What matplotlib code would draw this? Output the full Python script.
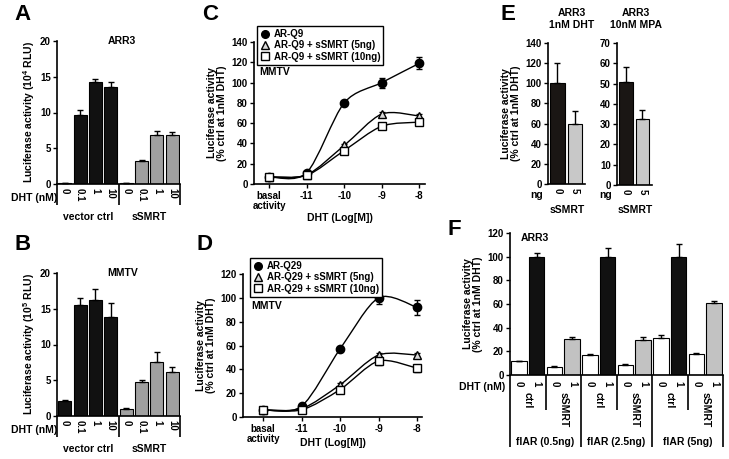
import matplotlib
matplotlib.use('Agg')
import matplotlib.pyplot as plt
from matplotlib.path import Path
from matplotlib.patches import PathPatch
from matplotlib.lines import Line2D
import matplotlib.transforms as mtransforms
import numpy as np

plt.rcParams['font.family'] = ['Liberation Sans', 'DejaVu Sans']
plt.rcParams['font.weight'] = 'bold'
plt.rcParams['axes.labelweight'] = 'bold'
plt.rcParams['mathtext.fontset'] = 'custom'
plt.rcParams['mathtext.rm'] = 'Liberation Sans:bold'
plt.rcParams['mathtext.bf'] = 'Liberation Sans:bold'
plt.rcParams['mathtext.default'] = 'bf'

# ---------------- data ----------------
dht_ab = ['0', '0.1', '1', '10']
ab_groups = ['vector ctrl', 'sSMRT']
a_vec = [0.1, 9.7, 14.2, 13.5]
a_vec_err = [0.05, 0.6, 0.5, 0.7]
a_ssmrt = [0.15, 3.2, 6.9, 6.8]
a_ssmrt_err = [0.05, 0.2, 0.5, 0.5]
b_vec = [2.1, 15.5, 16.2, 13.8]
b_vec_err = [0.1, 1.0, 1.6, 2.0]
b_ssmrt = [1.0, 4.8, 7.6, 6.1]
b_ssmrt_err = [0.1, 0.3, 1.3, 0.7]

dose_labels = ['basal\nactivity', '-11', '-10', '-9', '-8']
c_names = ['AR-Q9', 'AR-Q9 + sSMRT (5ng)', 'AR-Q9 + sSMRT (10ng)']
c_q9 = [7, 11, 80, 100, 119]
c_q9_err = [0.5, 1.5, 2, 5, 6]
c_5ng = [7, 9, 38, 69, 67]
c_5ng_err = [0.5, 1, 1.5, 2, 2]
c_10ng = [7, 8.5, 33, 57, 61]
c_10ng_err = [0.5, 1, 2, 2, 3]
d_names = ['AR-Q29', 'AR-Q29 + sSMRT (5ng)', 'AR-Q29 + sSMRT (10ng)']
d_q29 = [6, 9, 57, 100, 92]
d_q29_err = [0.5, 1, 2, 5, 6]
d_5ng = [6, 7, 27, 52, 52]
d_5ng_err = [0.5, 1, 1.5, 2, 2]
d_10ng = [6, 6, 23, 47, 41]
d_10ng_err = [0.5, 0.5, 1, 3, 3]

e_labels = ['0', '5']
e_dht = [100, 60]
e_dht_err = [20, 12]
e_mpa = [51, 32.5]
e_mpa_err = [7, 4.5]

f_groups = ['flAR (0.5ng)', 'flAR (2.5ng)', 'flAR (5ng)']
f_conds = ['ctrl', 'sSMRT']
f_dht = ['0', '1']
f_vals = [11.5, 100, 7, 30.5, 17, 100, 8.5, 30, 31, 100, 18, 60.5]
f_err = [0.5, 3.5, 0.5, 1.5, 1, 7, 0.5, 2.5, 2.5, 11, 0.8, 2]

# ---------------- layout helpers ----------------
W, H = 729, 459
fig = plt.figure(figsize=(W / 100, H / 100), dpi=100)
BOX = {}

def axes_px(l, t, r, b):
    ax = fig.add_axes([l / W, 1 - b / H, (r - l) / W, (b - t) / H])
    BOX[ax] = (l, t, r, b)
    return ax

def ay(ax, ypx):
    l, t, r, b = BOX[ax]
    return (b - ypx) / (b - t)

def ftext(x, y, s, **kw):
    fig.text(x / W, 1 - y / H, s, **kw)

def style(ax, xticklen=0):
    for s in ['top', 'right']:
        ax.spines[s].set_visible(False)
    for s in ['left', 'bottom']:
        ax.spines[s].set_linewidth(1.2)
    ax.tick_params(axis='y', labelsize=7, width=1, length=3, pad=1.5)
    ax.tick_params(axis='x', labelsize=7, width=1, length=xticklen, pad=3)

def vline(ax, x, ypx_end):
    tr = mtransforms.blended_transform_factory(ax.transData, ax.transAxes)
    ax.plot([x, x], [0, ay(ax, ypx_end)], color='black', lw=1.2,
            transform=tr, clip_on=False, solid_capstyle='butt')

def smooth(ax, xs, ys, color='black', lw=1.0, k=7.0):
    pts = np.column_stack([xs, ys]).astype(float)
    n = len(pts)
    verts = [pts[0]]
    codes = [Path.MOVETO]
    for i in range(n - 1):
        p0 = pts[max(i - 1, 0)]
        p1 = pts[i]
        p2 = pts[i + 1]
        p3 = pts[min(i + 2, n - 1)]
        c1 = p1 + (p2 - p0) / k
        c2 = p2 - (p3 - p1) / k
        verts += [c1, c2, p2]
        codes += [Path.CURVE4] * 3
    ax.add_patch(PathPatch(Path(verts, codes), facecolor='none',
                           edgecolor=color, lw=lw, zorder=2))

def bars(ax, x, vals, errs, colors, width=0.85):
    ax.bar(x, vals, width=width, color=colors, edgecolor='black',
           linewidth=0.8, zorder=2)
    ax.errorbar(x, vals, yerr=[np.zeros(len(errs)), errs], fmt='none',
                ecolor='black', elinewidth=1, capsize=2.5, capthick=1,
                zorder=3)

# ---------------- panels A & B ----------------
def panel_ab(box, vec, vec_err, ss, ss_err, title, ylabel):
    ax = axes_px(*box)
    l, t, r, b = box
    x = np.arange(8) + 0.5
    bars(ax, x, vec + ss, vec_err + ss_err, ['#111111'] * 4 + ['#a0a0a0'] * 4)
    ax.set_xlim(0, 8)
    ax.set_ylim(0, 20)
    ax.set_yticks([0, 5, 10, 15, 20])
    ax.set_xticks(x)
    ax.set_xticklabels(dht_ab + dht_ab, rotation=-90, va='top', ha='center')
    style(ax)
    ax.set_ylabel(ylabel, fontsize=7.5, labelpad=2)
    for xs in [0, 4, 8]:
        vline(ax, xs, b + 21)
    tr = mtransforms.blended_transform_factory(ax.transData, ax.transAxes)
    for gi, g in enumerate(ab_groups):
        ax.text(gi * 4 + 2, ay(ax, b + 33), g, transform=tr, ha='center',
                va='center', fontsize=7.5)
    ax.text(0.53, 1.0, title, transform=ax.transAxes, ha='center', va='center',
            fontsize=7.5)
    ftext(34, b + 14, 'DHT (nM)', ha='center', va='center', fontsize=7.5)
    return ax

panel_ab((57, 41, 180, 184), a_vec, a_vec_err, a_ssmrt, a_ssmrt_err, 'ARR3',
         'Luciferase activity (10$^{4}$ RLU)')
panel_ab((57, 273, 180, 416), b_vec, b_vec_err, b_ssmrt, b_ssmrt_err, 'MMTV',
         'Luciferase activity (10$^{5}$ RLU)')

# ---------------- panels C & D ----------------
def panel_cd(box, xlim, ymax, series, errs, names, legbox, mmtv_xy, xlab_y):
    ax = axes_px(*box)
    l, t, r, b = box
    x = np.arange(5)
    styles = [dict(marker='o', mfc='black', mec='black'),
              dict(marker='^', mfc='#d9d9d9', mec='black'),
              dict(marker='s', mfc='white', mec='black')]
    handles = []
    for ys, es, st, nm in zip(series, errs, styles, names):
        smooth(ax, x, ys)
        ax.errorbar(x, ys, yerr=es, fmt='none', ecolor='black', elinewidth=1,
                    capsize=2.5, capthick=1, zorder=3)
        ax.plot(x, ys, linestyle='none', mew=1, ms=6, zorder=4, **st)
        handles.append(Line2D([], [], linestyle='none', mew=1, ms=5.5, **st))
    ax.set_xlim(*xlim)
    ax.set_ylim(0, ymax)
    ax.set_yticks(np.arange(0, ymax + 1, 20))
    ax.set_xticks(x)
    ax.set_xticklabels(dose_labels, linespacing=0.95)
    style(ax, xticklen=3)
    ax.tick_params(axis='x', pad=2)
    ax.set_ylabel('Luciferase activity\n(% ctrl at 1nM DHT)', fontsize=7.5,
                  labelpad=3, linespacing=1.0)
    ax.set_xlabel('DHT (Log[M])', fontsize=7.5)
    ax.xaxis.set_label_coords(0.5, ay(ax, xlab_y), transform=ax.transAxes)
    leg = ax.legend(handles, names, loc='upper left',
                    bbox_to_anchor=(legbox[0] / W, 1 - legbox[1] / H),
                    bbox_transform=fig.transFigure, frameon=True,
                    fancybox=False, edgecolor='black', framealpha=1,
                    fontsize=7, handlelength=1.0, handletextpad=0.4,
                    borderpad=0.3, labelspacing=0.15, borderaxespad=0)
    leg.get_frame().set_linewidth(1.0)
    leg.set_zorder(10)
    ftext(mmtv_xy[0], mmtv_xy[1], 'MMTV', ha='left', va='center', fontsize=7.5)
    return ax

panel_cd((254, 42, 425, 184), (-0.4, 4.15), 140, [c_q9, c_5ng, c_10ng],
         [c_q9_err, c_5ng_err, c_10ng_err], c_names, (257, 26), (259, 72), 213)
panel_cd((243, 274, 422, 417), (-0.52, 4.13), 120, [d_q29, d_5ng, d_10ng],
         [d_q29_err, d_5ng_err, d_10ng_err], d_names, (250, 258), (251, 306), 438)

# ---------------- panel E ----------------
def panel_e(box, vals, errs, ymax, step, title, title_x, ylabel):
    ax = axes_px(*box)
    l, t, r, b = box
    x = np.arange(2)
    bars(ax, x, vals, errs, ['#1a1614', '#c8c8c8'], width=0.82)
    ax.set_xlim(-0.55, 1.6)
    ax.set_ylim(0, ymax)
    ax.set_yticks(np.arange(0, ymax + 1, step))
    ax.set_xticks(x)
    ax.set_xticklabels(e_labels, rotation=-90, va='top', ha='center')
    style(ax)
    if ylabel:
        ax.set_ylabel('Luciferase activity\n(% ctrl at 1nM DHT)', fontsize=7.5,
                      labelpad=3, linespacing=1.0)
    ftext(title_x, 19, title, ha='center', va='center', fontsize=7.5,
          linespacing=1.15)
    ftext(l - 5, 195, 'ng', ha='right', va='center', fontsize=7.5)
    ftext((l + r) / 2 + 1, 210, 'sSMRT', ha='center', va='center', fontsize=7.5)
    return ax

panel_e((548, 43, 585, 184), e_dht, e_dht_err, 140, 20, 'ARR3\n1nM DHT', 572, True)
panel_e((617, 43, 652, 185), e_mpa, e_mpa_err, 70, 10, 'ARR3\n10nM MPA', 636, False)

# ---------------- panel F ----------------
axf = axes_px(510, 233, 723, 375)
xf = np.arange(12) + 0.5
fcols = []
for gi in range(3):
    fcols += ['white', '#111111', 'white', '#c2c2c2']
bars(axf, xf, f_vals, f_err, fcols, width=0.86)
axf.set_xlim(0, 12)
axf.set_ylim(0, 120)
axf.set_yticks(np.arange(0, 121, 20))
axf.set_xticks(xf)
axf.set_xticklabels(f_dht * 6, rotation=-90, va='top', ha='center')
style(axf)
axf.tick_params(axis='x', pad=4)
axf.set_ylabel('Luciferase activity\n(% ctrl at 1nM DHT)', fontsize=7.5,
               labelpad=3, linespacing=1.0)
for xs in [0, 4, 8, 12]:
    vline(axf, xs, 447)
for xs in [2, 6, 10]:
    vline(axf, xs, 410)
trf = mtransforms.blended_transform_factory(axf.transData, axf.transAxes)
for gi, g in enumerate(f_groups):
    axf.text(gi * 4 + 2, ay(axf, 442), g, transform=trf, ha='center',
             va='center', fontsize=7.5)
    for ci, c in enumerate(f_conds):
        axf.text(gi * 4 + ci * 2 + 1, ay(axf, 392), c, transform=trf,
                 ha='center', va='top', rotation=-90, fontsize=7.5)
axf.text(0.05, ay(axf, 238), 'ARR3', transform=axf.transAxes, ha='left',
         va='center', fontsize=7.5)
ftext(505, 387, 'DHT (nM)', ha='right', va='center', fontsize=7.5)

# ---------------- panel letters ----------------
for s, (px, py) in zip('ABCDEF', [(23, 15), (23, 245), (210, 15), (205, 245),
                                  (508, 15), (454, 230)]):
    ftext(px, py, s, ha='center', va='center', fontsize=16)

fig.savefig('out.png', dpi=100)
